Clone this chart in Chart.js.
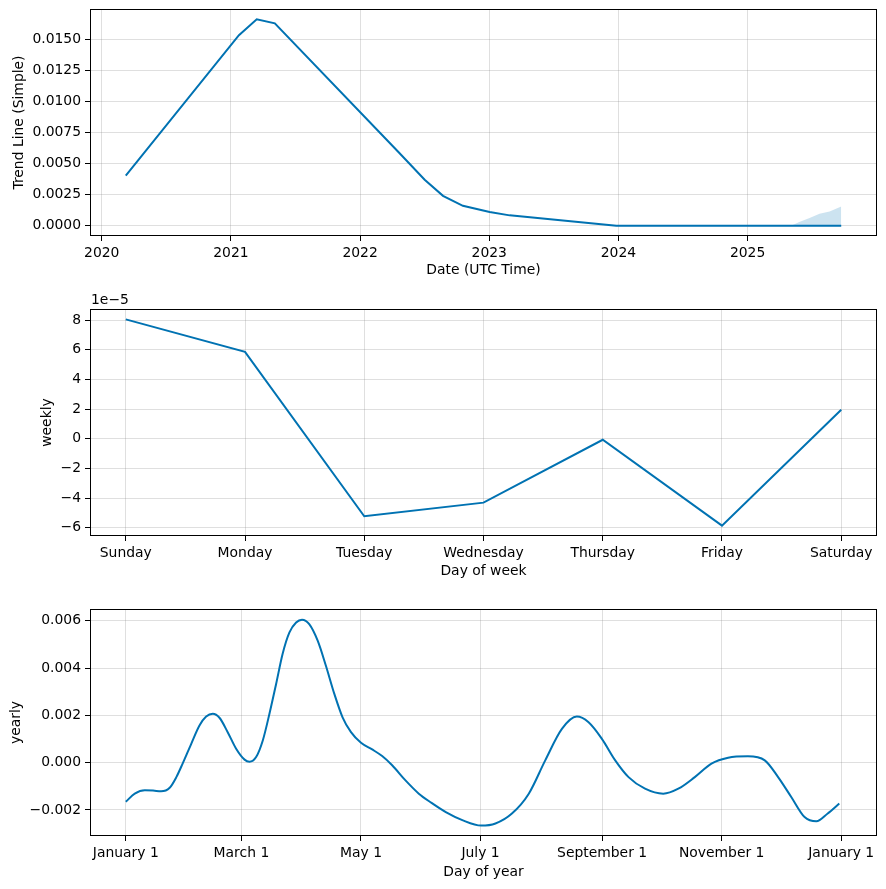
<!DOCTYPE html>
<html>
<head>
<meta charset="utf-8">
<script src="https://cdn.jsdelivr.net/npm/chart.js@4.4.1/dist/chart.umd.min.js"></script>
<style>
  body { margin: 0; background: #fff; }
  .wrap { position: relative; width: 886px; height: 889px; }
  canvas { position: absolute; left: 0; }
</style>
</head>
<body>
<div class="wrap">
  <canvas id="trendChart" width="886" height="290" style="top:0"></canvas>
  <canvas id="weeklyChart" width="886" height="300" style="top:290px"></canvas>
  <canvas id="yearlyChart" width="886" height="299" style="top:590px"></canvas>
</div>
<script>
// trend (x in fractional years)
const trendYears = [2020.186, 2021.062, 2021.2, 2021.34, 2022.306, 2022.5, 2022.642, 2022.796, 2023.003, 2023.158, 2023.984, 2025.725];
const trendValues = [0.00403, 0.01532, 0.0166, 0.01628, 0.00583, 0.00369, 0.0024, 0.0016, 0.0011, 0.00083, 0, 0];
const bandYears = [2025.338, 2025.4, 2025.48, 2025.557, 2025.635, 2025.725];
const bandUpper = [0, 0.0003, 0.00062, 0.00096, 0.00115, 0.00155];
const bandLower = [0, 0, 0, 0, 0, 0];
const yearTicks = [2020, 2021, 2022, 2023, 2024, 2025];
const trendTicks = [0, 0.0025, 0.005, 0.0075, 0.01, 0.0125, 0.015];

// weekly
const weekDays = ['Sunday', 'Monday', 'Tuesday', 'Wednesday', 'Thursday', 'Friday', 'Saturday'];
const weeklyValues = [8.05e-5, 5.86e-5, -5.23e-5, -4.31e-5, -0.07e-5, -5.86e-5, 1.96e-5];
const weeklyTicks = [-6e-5, -4e-5, -2e-5, 0, 2e-5, 4e-5, 6e-5, 8e-5];

// yearly (x = day of year from January 1)
const yearDays = [0, 4.6, 9.7, 13.9, 18, 22.4, 25.8, 29, 33.4, 37.6, 41, 44.4, 47.8, 52, 56.3, 60.6, 63.1, 66.5, 69.9, 73.3, 76.7, 80, 83.5, 86.9, 89.9, 93.6, 97.9, 102.1, 106.4, 110.6, 114.9, 120, 125.7, 130.8, 135.9, 142.7, 149.5, 156, 163.5, 171.7, 181.3, 188.6, 197, 205.6, 214, 222.5, 230.1, 236.1, 242.9, 249.7, 256.5, 264.9, 274.2, 281.9, 290.3, 298.8, 307.3, 317.4, 326, 332.8, 339.5, 346.3, 352.3, 358.1, 364];
const yearValues = [-0.00165, -0.00131, -0.00117, -0.00118, -0.00121, -0.00106, -0.00061, -0.00004, 0.0008, 0.00157, 0.00195, 0.00207, 0.0019, 0.00129, 0.00059, 0.00013, 0.00004, 0.00024, 0.00094, 0.00207, 0.00333, 0.0046, 0.00551, 0.00593, 0.00605, 0.00586, 0.00516, 0.0041, 0.00291, 0.00192, 0.00129, 0.00084, 0.00056, 0.00028, -0.00011, -0.00075, -0.00131, -0.0017, -0.0021, -0.00243, -0.00266, -0.00257, -0.00215, -0.00131, 0.0001, 0.00143, 0.00195, 0.00171, 0.00101, 0.0001, -0.00061, -0.0011, -0.00131, -0.0011, -0.00061, -0.00004, 0.00021, 0.00027, 0.0001, -0.00061, -0.00145, -0.0023, -0.00248, -0.00215, -0.00173];
const monthTicks = [0, 59, 120, 181, 243, 304, 365];
const monthLabels = ['January 1', 'March 1', 'May 1', 'July 1', 'September 1', 'November 1', 'January 1'];
const yearlyTicks = [-0.002, 0, 0.002, 0.004, 0.006];

const BLUE = '#0072B2';
const GRID = 'rgba(128,128,128,0.25)';
const FONT = { family: 'DejaVu Sans', size: 13.9 };

Chart.defaults.color = '#000';
Chart.defaults.font = FONT;

const minus = s => s.replace('-', '\u2212');
const pts = (xs, ys) => xs.map((x, i) => ({ x, y: ys[i] }));

const framePlugin = {
  id: 'frame',
  afterDraw(chart) {
    const { ctx, chartArea: a } = chart;
    ctx.save();
    ctx.strokeStyle = '#000';
    ctx.lineWidth = 1;
    ctx.strokeRect(Math.round(a.left) + 0.5, Math.round(a.top) + 0.5,
      Math.round(a.right - a.left) - 1, Math.round(a.bottom - a.top) - 1);
    ctx.restore();
  }
};

function axis(opts) {
  return {
    type: 'linear',
    min: opts.min,
    max: opts.max,
    afterBuildTicks: s => { s.ticks = opts.ticks.map(value => ({ value })); },
    afterFit: s => {
      if (opts.width) s.width = opts.width;
      if (opts.height) s.height = opts.height;
      s.paddingTop = 0; s.paddingBottom = 0;
      s.paddingLeft = 0; s.paddingRight = 0;
    },
    grid: { color: GRID, lineWidth: 1, tickColor: '#000', tickLength: 5 },
    border: { display: false },
    ticks: { autoSkip: false, maxRotation: 0, padding: 4, callback: opts.format },
    title: { display: true, text: opts.title, padding: opts.titlePad, font: FONT }
  };
}

function makeChart(id, datasets, xOpts, yOpts, top, extraPlugins) {
  return new Chart(document.getElementById(id), {
    type: 'line',
    data: { datasets },
    options: {
      responsive: false,
      animation: false,
      devicePixelRatio: 1,
      layout: { padding: { top, right: 9, left: 0, bottom: 0 } },
      plugins: { legend: { display: false }, tooltip: { enabled: false } },
      elements: { point: { radius: 0 } },
      scales: { x: axis(xOpts), y: axis(yOpts) }
    },
    plugins: [framePlugin].concat(extraPlugins || [])
  });
}

// trend panel
makeChart('trendChart', [
  { data: pts(trendYears, trendValues), borderColor: BLUE, borderWidth: 2, tension: 0, fill: false },
  { data: pts(bandYears, bandUpper), borderWidth: 0, borderColor: 'rgba(0,0,0,0)', backgroundColor: 'rgba(0,114,178,0.2)', fill: '+1', tension: 0 },
  { data: pts(bandYears, bandLower), borderWidth: 0, borderColor: 'rgba(0,0,0,0)', fill: false, tension: 0 }
], {
  min: 2019.909, max: 2026.002, ticks: yearTicks, height: 54,
  format: v => String(v), title: 'Date (UTC Time)', titlePad: { top: 2, bottom: 11 }
}, {
  min: -0.00083, max: 0.01743, ticks: trendTicks, width: 90,
  format: v => v.toFixed(4), title: 'Trend Line (Simple)', titlePad: { top: 11, bottom: 2 }
}, 9);

// weekly panel
const offsetText = {
  id: 'offsetText',
  afterDraw(chart) {
    const { ctx, chartArea: a } = chart;
    ctx.save();
    ctx.font = '13.9px "DejaVu Sans"';
    ctx.fillStyle = '#000';
    ctx.textAlign = 'left';
    ctx.textBaseline = 'bottom';
    ctx.fillText('1e\u22125', a.left + 1, a.top - 2);
    ctx.restore();
  }
};

makeChart('weeklyChart', [
  { data: pts(weekDays.map((d, i) => i), weeklyValues), borderColor: BLUE, borderWidth: 2, tension: 0, fill: false }
], {
  min: -0.3, max: 6.3, ticks: [0, 1, 2, 3, 4, 5, 6], height: 54,
  format: v => weekDays[Math.round(v)], title: 'Day of week', titlePad: { top: 2, bottom: 10 }
}, {
  min: -6.56e-5, max: 8.75e-5, ticks: weeklyTicks, width: 90,
  format: v => minus((v * 1e5).toFixed(0)), title: 'weekly', titlePad: { top: 39, bottom: 2 }
}, 19, [offsetText]);

// yearly panel
makeChart('yearlyChart', [
  { data: pts(yearDays, yearValues), borderColor: BLUE, borderWidth: 2, cubicInterpolationMode: 'monotone', fill: false }
], {
  min: -18.25, max: 383.25, ticks: monthTicks, height: 53,
  format: (v, i) => monthLabels[i], title: 'Day of year', titlePad: { top: 2, bottom: 8 }
}, {
  min: -0.0031, max: 0.0065, ticks: yearlyTicks, width: 90,
  format: v => minus(v.toFixed(3)), title: 'yearly', titlePad: { top: 8, bottom: 2 }
}, 19);
</script>
</body>
</html>
